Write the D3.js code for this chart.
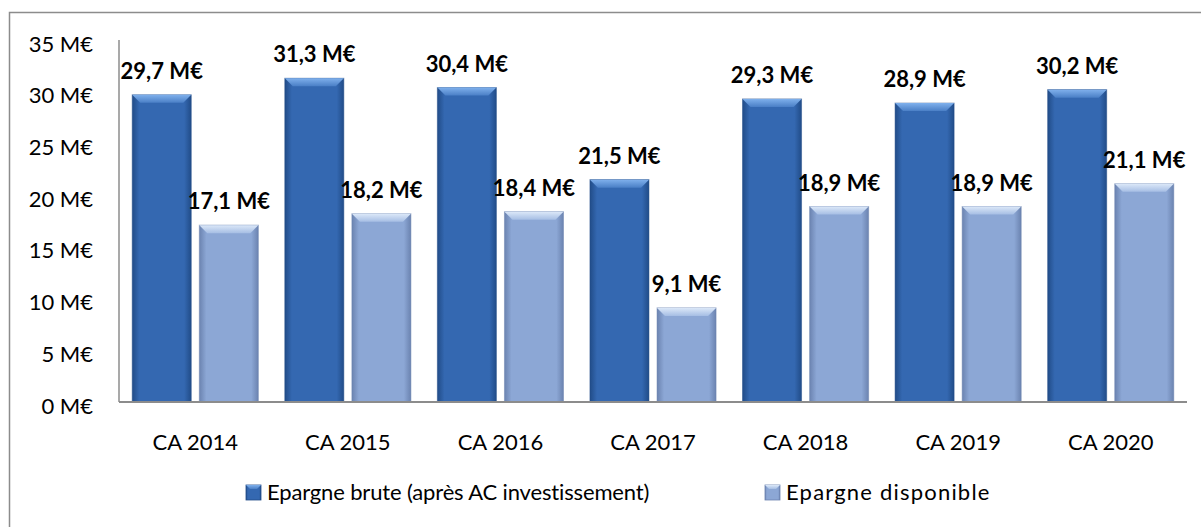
<!DOCTYPE html>
<html><head><meta charset="utf-8">
<script src="https://cdn.jsdelivr.net/npm/d3@7"></script>
<style>body{margin:0;background:#fff;}svg{display:block;font-family:Lato,"Open Sans",sans-serif;}</style>
</head><body>
<svg id="c" width="1201" height="527"></svg>
<script>
const categories = ["CA 2014","CA 2015","CA 2016","CA 2017","CA 2018","CA 2019","CA 2020"];
const seriesNames = ["Epargne brute (après AC investissement)","Epargne disponible"];
const brute = [29.7,31.3,30.4,21.5,29.3,28.9,30.2];
const disponible = [17.1,18.2,18.4,9.1,18.9,18.9,21.1];
const yTicks = [0,5,10,15,20,25,30,35];

const svg = d3.select("#c");
const m={l:119,r:1187,t:40,b:402};
svg.append("rect").attr("x",9.5).attr("y",12.5).attr("width",1300).attr("height",600)
  .attr("fill","#fff").attr("stroke","#8c8c8c").attr("stroke-width",1.5);

const defs=svg.append("defs");
const pal=[{edge:"#214c88",mid:"#3468b1",bev1:"#7fb0ec",bev2:"#4a7fc6"},
           {edge:"#6b83b0",mid:"#8ca7d5",bev1:"#dce8f8",bev2:"#a6bee4"}];
pal.forEach((p,i)=>{
  const g=defs.append("linearGradient").attr("id","g"+i).attr("x1",0).attr("x2",1).attr("y1",0).attr("y2",0);
  g.append("stop").attr("offset","0%").attr("stop-color",p.edge);
  g.append("stop").attr("offset","12%").attr("stop-color",p.mid);
  g.append("stop").attr("offset","88%").attr("stop-color",p.mid);
  g.append("stop").attr("offset","100%").attr("stop-color",p.edge);
  const b=defs.append("linearGradient").attr("id","b"+i).attr("x1",0).attr("x2",0).attr("y1",0).attr("y2",1);
  b.append("stop").attr("offset","0%").attr("stop-color",p.bev1);
  b.append("stop").attr("offset","100%").attr("stop-color",p.bev2);
});

const x0=d3.scaleBand().domain(categories).range([m.l,m.r]);
const x1=d3.scaleBand().domain([0,1]).range([0,x0.bandwidth()]).paddingInner(0.12).paddingOuter(0.197);
const y=d3.scaleLinear().domain([0,35]).range([m.b,m.t]);

svg.append("line").attr("x1",m.l).attr("x2",m.l).attr("y1",m.t).attr("y2",m.b).attr("stroke","#8c8c8c").attr("stroke-width",1.5);
const yAxis=d3.axisLeft(y).tickValues(yTicks).tickSize(0).tickPadding(26).tickFormat(d=>d+" M€");
const ya=svg.append("g").attr("transform",`translate(${m.l},0)`).call(yAxis);
ya.select(".domain").remove();
ya.selectAll("text").attr("font-size",22).attr("fill","#000").attr("font-family","Lato").attr("dy","0.5em");

const data=categories.map((c,i)=>({c,v:[brute[i],disponible[i]]}));
const bw=x1.bandwidth();
const groups=svg.append("g").selectAll("g").data(data).join("g").attr("transform",d=>`translate(${x0(d.c)},0)`);
groups.each(function(d){
  const g=d3.select(this);
  d.v.forEach((v,i)=>{
    const bx=x1(i), top=y(v), bot=y(0), bev=8;
    g.append("rect").attr("x",bx).attr("y",top).attr("width",bw).attr("height",bot-top)
      .attr("fill",`url(#g${i})`).attr("stroke",pal[i].edge).attr("stroke-opacity",0.5).attr("stroke-width",1);
    g.append("path").attr("d",`M${bx},${top}L${bx+bw},${top}L${bx+bw-bev},${top+bev}L${bx+bev},${top+bev}Z`)
      .attr("fill",`url(#b${i})`);
    g.append("text").attr("x",bx+bw/2).attr("y",top-16).attr("text-anchor","middle")
      .attr("font-size",22).attr("font-weight","bold").attr("fill","#000").text(String(v).replace(".",",")+" M€");
  });
});

svg.append("line").attr("x1",m.l).attr("x2",m.r).attr("y1",m.b).attr("y2",m.b).attr("stroke","#8c8c8c").attr("stroke-width",2);

const xAxis=d3.axisBottom(x0).tickSize(0).tickPadding(32);
const xa=svg.append("g").attr("transform",`translate(0,${m.b})`).call(xAxis);
xa.select(".domain").remove();
xa.selectAll("text").attr("font-size",22).attr("fill","#000").attr("font-family","Lato");

const lx=[246,765], ls=[-0.15,1.2];
seriesNames.forEach((n,i)=>{
  svg.append("rect").attr("x",lx[i]).attr("y",485).attr("width",15).attr("height",15)
    .attr("fill",`url(#g${i})`).attr("stroke",pal[i].edge).attr("stroke-width",0.8);
  svg.append("path").attr("d",`M${lx[i]},485L${lx[i]+15},485L${lx[i]+11},489L${lx[i]+4},489Z`).attr("fill",`url(#b${i})`);
  svg.append("text").attr("x",lx[i]+21).attr("y",500).attr("font-size",22).attr("letter-spacing",ls[i]).attr("fill","#000").text(n);
});
</script>
</body></html>
